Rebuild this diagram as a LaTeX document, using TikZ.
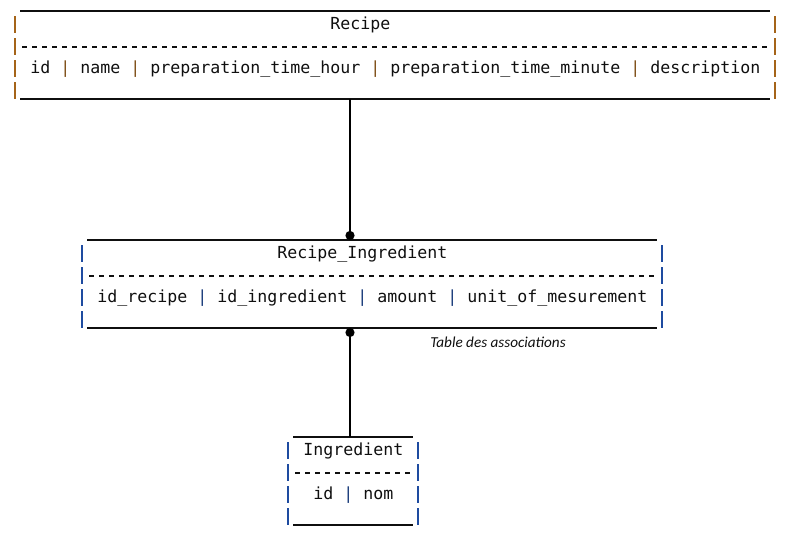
\documentclass[tikz,border=0pt]{standalone}
\usepackage{fontspec}
\usetikzlibrary{arrows.meta}
\newfontfamily\codefont[WordSpace={1,0,0}]{DejaVu Sans Mono}
\newfontfamily\assocfont{Carlito}
\definecolor{ink}{RGB}{15,15,15}
\definecolor{pipeR}{RGB}{165,100,25}
\definecolor{pipeB}{RGB}{30,75,160}
\newcommand{\colsep}[1]{\textcolor{#1!75!black}{|}}
\tikzset{
  tbl/.style={rectangle, inner sep=0pt, outer sep=0pt, minimum height=66pt},
  txt/.style={anchor=base west, inner sep=0pt, text=ink, font=\fontsize{12.46pt}{15pt}\codefont},
  rule/.style={ink, line width=0.8pt},
  sep/.style={ink, line width=0.8pt, dash pattern=on 3.9pt off 3.6pt},
  pipe/.style={line width=1.2pt},
  link/.style={black, line width=1pt}
}

\begin{document}
\begin{tikzpicture}[x=0.75pt, y=-0.75pt]
    \useasboundingbox (0,0) rectangle (801,545);

    \node[tbl, minimum width=562.5pt] (recipe) at (395, 55) {};
    \node[tbl, minimum width=427.5pt] (recipeIng) at (372, 284) {};
    \node[tbl, minimum width=90pt] (ingredient) at (353, 481) {};

    % 枠を引く
    \draw[rule] (recipe.north west) -- (recipe.north east);
    \draw[rule] (recipe.south west) -- (recipe.south east);
    \draw[rule] (recipeIng.north west) -- (recipeIng.north east);
    \draw[rule] (recipeIng.south west) -- (recipeIng.south east);
    \draw[rule] (ingredient.north west) -- (ingredient.north east);
    \draw[rule] (ingredient.south west) -- (ingredient.south east);

    \draw[sep] (22, 47) -- (770, 47);
    \draw[sep] (89, 276) -- (657, 276);
    \draw[sep] (295, 473) -- (413, 473);

    \foreach \y in {29.5, 51.5, 73.5, 95.5}
      \draw[pipe, pipeR] (15, \y-13) -- (15, \y+4) (775, \y-13) -- (775, \y+4);
    \foreach \y in {258.5, 280.5, 302.5, 324.5}
      \draw[pipe, pipeB] (82, \y-13) -- (82, \y+4) (662, \y-13) -- (662, \y+4);
    \foreach \y in {455.5, 477.5, 499.5, 521.5}
      \draw[pipe, pipeB] (288, \y-13) -- (288, \y+4) (418, \y-13) -- (418, \y+4);

    % 線を引く
    \draw[link, -{Circle[length=6.8pt, width=6.8pt]}] (recipe.south -| 350,0) -- (recipeIng.north -| 350,0);
    \draw[link, {Circle[length=6.8pt, width=6.8pt]}-] (recipeIng.south -| 350,0) -- (ingredient.north -| 350,0);

    % 名前を入れる
    \node[txt] (recipeTitle) at (330, 29.5) {Recipe};
    \node[txt] (recipeCols) at (30, 73.5) {id \colsep{pipeR} name \colsep{pipeR} preparation\_time\_hour \colsep{pipeR} preparation\_time\_minute \colsep{pipeR} description};
    \node[txt] (recipeIngTitle) at (277, 258.5) {Recipe\_Ingredient};
    \node[txt] (recipeIngCols) at (97, 302.5) {id\_recipe \colsep{pipeB} id\_ingredient \colsep{pipeB} amount \colsep{pipeB} unit\_of\_mesurement};
    \node[txt] (ingredientTitle) at (303, 455.5) {Ingredient};
    \node[txt] (ingredientCols) at (313, 499.5) {id \colsep{pipeB} nom};

    \node[text=ink, font=\fontsize{11.4pt}{13pt}\assocfont\itshape] (assoc) at (498, 342) {Table des associations};

  \end{tikzpicture}
\end{document}
